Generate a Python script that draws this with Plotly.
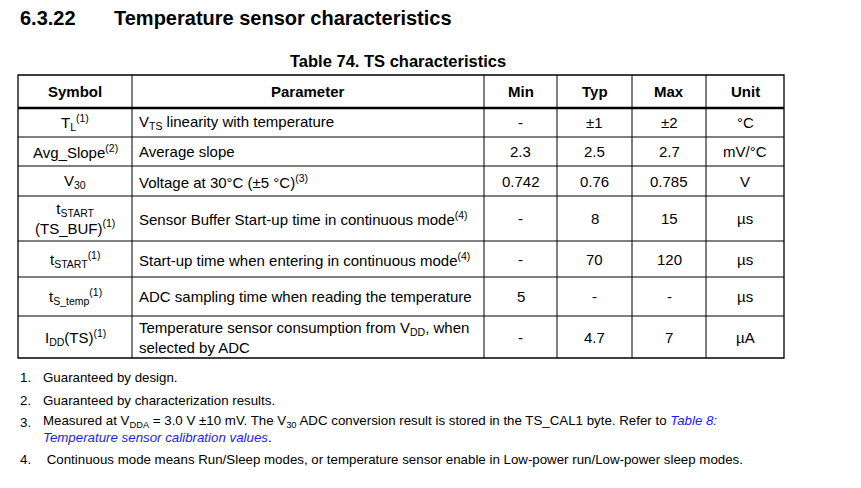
import plotly.graph_objects as go

# Table content
headers = ["Symbol", "Parameter", "Min", "Typ", "Max", "Unit"]
symbols = [
    "T<sub>L</sub><sup>(1)</sup>",
    "Avg_Slope<sup>(2)</sup>",
    "V<sub>30</sub>",
    "t<sub>START</sub><br>(TS_BUF)<sup>(1)</sup>",
    "t<sub>START</sub><sup>(1)</sup>",
    "t<sub>S_temp</sub><sup>(1)</sup>",
    "I<sub>DD</sub>(TS)<sup>(1)</sup>",
]
parameters = [
    "V<sub>TS</sub> linearity with temperature",
    "Average slope",
    "Voltage at 30°C (±5 °C)<sup>(3)</sup>",
    "Sensor Buffer Start-up time in continuous mode<sup>(4)</sup>",
    "Start-up time when entering in continuous mode<sup>(4)</sup>",
    "ADC sampling time when reading the temperature",
    "Temperature sensor consumption from V<sub>DD</sub>, when<br>selected by ADC",
]
mins = ["-", "2.3", "0.742", "-", "-", "5", "-"]
typs = ["±1", "2.5", "0.76", "8", "70", "-", "4.7"]
maxs = ["±2", "2.7", "0.785", "15", "120", "-", "7"]
units = ["°C", "mV/°C", "V", "µs", "µs", "µs", "µA"]
notes = [
    "Guaranteed by design.",
    "Guaranteed by characterization results.",
    "Measured at V<sub>DDA</sub> = 3.0 V ±10 mV. The V<sub>30</sub> ADC conversion result is stored in the TS_CAL1 byte. Refer to "
    "<i><span style='color:#1a1aff'>Table 8:</span></i><br><i><span style='color:#1a1aff'>Temperature sensor calibration values</span></i>.",
    " Continuous mode means Run/Sleep modes, or temperature sensor enable in Low-power run/Low-power sleep modes.",
]

# Layout geometry (pixels)
col_edges = [18, 132, 484, 557, 632, 706, 784]
row_edges = [75, 108, 137, 166, 196, 241, 277, 316, 358]
note_y = [377, 400, 429, 459]
PAGE_OFFSET = 8  # browser body margin

FONT = "Liberation Sans, Arial, sans-serif"

fig = go.Figure()
fig.add_trace(go.Scatter(x=[0, 861], y=[0, 488], mode="markers", marker=dict(opacity=0), hoverinfo="skip"))

shapes = []
shapes.append(dict(type="rect", x0=col_edges[0], x1=col_edges[-1], y0=row_edges[0], y1=row_edges[-1],
                   line=dict(color="black", width=1.3)))
for x in col_edges[1:-1]:
    shapes.append(dict(type="line", x0=x, x1=x, y0=row_edges[0], y1=row_edges[-1], line=dict(color="black", width=1)))
for i, y in enumerate(row_edges[1:-1]):
    shapes.append(dict(type="line", x0=col_edges[0], x1=col_edges[-1], y0=y, y1=y,
                       line=dict(color="black", width=2.5 if i == 0 else 1)))

ann = []


def cell(text, x, y, anchor="center", bold=False, size=15):
    ann.append(dict(x=x, y=y, text=f"<b>{text}</b>" if bold else text, showarrow=False,
                    xanchor=anchor, yanchor="middle", font=dict(family=FONT, size=size, color="black"),
                    align="left" if anchor == "left" else "center"))


cell("6.3.22", 18, 18, "left", True, 20)
cell("Temperature sensor characteristics", 112, 18, "left", True, 20)
cell("Table 74. TS characteristics", 398, 61, "center", True, 16.5)

hy = (row_edges[0] + row_edges[1]) / 2
for j, h in enumerate(headers):
    cell(h, (col_edges[j] + col_edges[j + 1]) / 2, hy, bold=True)

for i in range(len(symbols)):
    y = (row_edges[i + 1] + row_edges[i + 2]) / 2
    cell(symbols[i], (col_edges[0] + col_edges[1]) / 2, y)
    cell(parameters[i], col_edges[1] + 5, y, "left")
    for j, v in enumerate([mins[i], typs[i], maxs[i], units[i]]):
        cell(v, (col_edges[j + 2] + col_edges[j + 3]) / 2, y)

for k, n in enumerate(notes):
    cell(f"{k + 1}.", 18, note_y[k] if k != 2 else 422, "left", size=13.3)
    cell(n, 41, note_y[k], "left", size=13.3)

fig.update_layout(
    width=861, height=488,
    margin=dict(l=0, r=0, t=0, b=0),
    plot_bgcolor="white", paper_bgcolor="white",
    xaxis=dict(range=[PAGE_OFFSET, 861 + PAGE_OFFSET], visible=False, fixedrange=True),
    yaxis=dict(range=[488 + PAGE_OFFSET, PAGE_OFFSET], visible=False, fixedrange=True),
    shapes=shapes, annotations=ann, showlegend=False,
)

fig.write_html("out.html")
